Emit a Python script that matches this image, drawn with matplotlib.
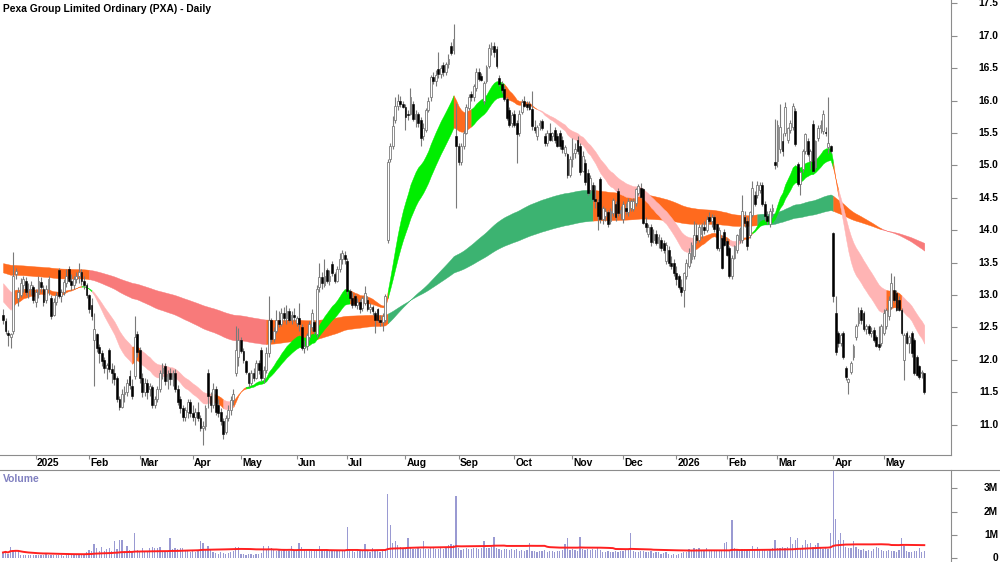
import matplotlib
matplotlib.use("Agg")
import matplotlib.pyplot as plt
import matplotlib.transforms as mtransforms
from matplotlib.lines import Line2D
import numpy as np
import pandas as pd

plt.rcParams['font.family'] = ['Liberation Sans', 'DejaVu Sans']

title = "Pexa Group Limited Ordinary (PXA) - Daily"

holidays = ["2024-12-25", "2024-12-26", "2025-01-01", "2025-01-27", "2025-04-18",
            "2025-04-21", "2025-04-25", "2025-06-09", "2025-12-25", "2025-12-26",
            "2026-01-01", "2026-01-26", "2026-04-03", "2026-04-06"]

open_ = [
    # Dec 2024
    12.70,12.60,12.42,12.36,12.45,13.33,12.95,13.00,13.15,13.22,13.08,13.10,13.12,
    # Jan 2025
    12.90,13.02,13.20,13.10,12.92,13.10,12.95,12.70,12.90,13.38,12.98,13.05,13.18,13.40,13.22,13.15,13.25,13.30,13.35,13.22,13.15,
    # Feb
    13.00,12.85,12.31,12.40,12.20,12.10,12.00,11.88,12.15,11.86,11.80,11.72,11.40,11.28,11.48,11.50,11.75,11.60,11.75,12.40,
    # Mar
    12.15,11.72,11.50,11.65,11.55,11.58,11.30,11.40,11.55,11.80,11.90,11.68,11.80,11.70,11.80,11.55,11.40,11.25,11.12,11.20,11.35,
    # Apr
    11.18,11.12,11.20,11.10,10.95,10.98,11.80,11.45,11.30,11.55,11.30,11.20,11.05,10.88,11.10,11.22,11.38,11.80,12.05,
    # May
    12.30,12.13,11.98,11.80,11.65,11.80,11.72,11.95,12.15,11.72,11.85,12.10,12.62,12.32,12.45,12.62,12.55,12.72,12.65,12.75,12.62,12.70,
    # Jun
    12.57,12.65,12.51,12.18,12.22,12.35,12.50,12.58,12.40,13.12,13.28,13.15,13.38,13.22,13.48,13.32,13.22,13.40,13.55,13.62,
    # Jul
    13.52,13.06,12.96,12.98,12.85,12.90,12.80,12.88,12.93,12.78,12.82,12.72,12.78,12.62,12.58,12.62,13.85,15.10,15.30,15.70,15.92,16.00,15.95,
    # Aug
    15.90,15.80,15.80,15.95,15.71,15.80,15.70,15.45,15.55,15.85,16.05,16.36,16.30,16.49,16.41,16.55,16.45,16.56,16.85,16.78,15.45,
    # Sep
    15.30,15.05,15.30,15.50,15.88,16.10,16.05,16.20,16.44,16.38,16.00,16.30,16.54,16.80,16.85,16.80,16.35,16.26,16.18,16.03,15.86,15.65,
    # Oct
    15.80,15.66,15.50,15.82,16.00,15.95,15.95,15.87,15.60,15.46,15.62,15.68,15.46,15.35,15.50,15.45,15.55,15.45,15.50,15.40,15.20,15.17,14.85,
    # Nov
    15.10,15.20,15.40,15.30,14.92,15.04,14.89,14.62,14.70,14.48,14.43,14.79,14.17,14.22,14.28,14.15,14.27,14.40,14.60,14.27,
    # Dec
    14.18,14.35,14.28,14.35,14.33,14.42,14.58,14.65,14.63,14.12,13.95,14.05,13.85,13.95,13.80,13.85,13.80,13.52,13.70,13.50,13.50,
    # Jan 2026
    13.34,13.29,13.13,13.08,13.30,13.45,13.55,13.60,13.92,13.85,13.95,14.05,14.00,14.20,14.15,14.20,14.09,13.73,13.88,13.98,
    # Feb
    13.83,13.73,13.30,13.58,13.70,13.85,13.85,14.20,14.14,13.92,14.24,14.55,14.55,14.62,14.70,14.40,14.22,14.10,14.30,15.05,
    # Mar
    15.07,15.25,15.38,15.50,15.40,15.55,15.59,15.84,15.02,14.71,14.95,15.22,15.38,15.07,15.64,14.97,15.42,15.58,15.53,15.52,15.28,15.30,
    # Apr
    13.96,12.72,12.41,12.26,12.41,11.87,11.66,11.82,12.05,12.36,12.57,12.77,12.72,12.47,12.52,12.41,12.46,12.35,12.25,12.26,
    # May
    12.42,12.52,12.67,12.82,13.08,13.03,12.93,12.77,12.00,12.41,12.26,12.41,12.31,12.05,11.90,11.80,11.79,
]

high_ = [
    12.78,12.64,12.46,12.42,13.66,13.42,13.12,13.26,13.30,13.28,13.18,13.22,13.16,
    13.10,13.30,13.28,13.15,13.15,13.30,13.00,12.95,13.05,13.42,13.10,13.25,13.40,13.45,13.32,13.30,13.35,13.50,13.40,13.30,13.18,
    13.02,12.95,12.72,12.42,12.25,12.15,12.05,11.95,12.18,11.95,11.92,11.75,11.45,11.55,11.60,11.70,11.85,11.70,12.67,12.45,
    12.20,11.80,11.72,11.70,11.65,11.62,11.45,11.60,11.85,11.95,11.95,11.85,11.88,11.85,11.86,11.62,11.45,11.30,11.28,11.40,11.40,
    11.30,11.25,11.35,11.15,11.05,11.30,11.86,11.50,11.65,11.60,11.40,11.25,11.10,11.15,11.30,11.45,11.55,12.52,12.49,
    12.35,12.18,12.00,11.82,11.85,11.88,12.00,12.00,12.20,11.90,12.20,12.98,12.65,12.50,12.77,12.75,12.80,12.82,12.85,12.80,12.75,12.80,
    12.68,12.88,12.55,12.30,12.42,12.60,12.78,12.62,13.15,13.50,13.35,13.55,13.42,13.38,13.52,13.36,13.45,13.65,13.70,13.68,
    13.58,13.10,13.05,13.02,12.95,12.94,12.98,13.14,12.98,12.88,12.85,12.75,12.80,12.70,12.72,13.02,15.10,15.35,15.76,16.05,16.10,16.08,16.00,
    15.95,15.85,16.20,16.00,15.85,15.82,15.75,15.65,15.88,16.05,16.40,16.45,16.48,16.75,16.55,16.60,16.60,16.72,16.90,17.19,15.97,
    15.35,15.35,15.55,15.95,16.10,16.15,16.25,16.50,16.50,16.42,16.30,16.55,16.88,16.90,16.90,16.85,16.40,16.30,16.22,16.06,15.90,15.82,
    15.85,15.70,15.85,16.02,16.08,16.00,16.00,16.15,15.70,15.62,15.70,15.72,15.50,15.55,15.65,15.52,15.60,15.50,15.55,15.45,15.32,15.20,15.15,
    15.43,15.35,15.45,15.35,15.22,15.10,14.95,14.85,14.75,14.70,14.48,14.82,14.38,14.35,14.32,14.35,14.50,14.45,14.65,14.38,
    14.45,14.42,14.50,14.48,14.50,14.66,14.72,14.73,14.66,14.20,14.10,14.10,14.02,14.00,13.95,13.90,13.85,13.82,13.75,13.60,13.55,
    13.45,13.32,13.25,13.36,13.55,13.72,13.82,14.14,14.12,14.10,14.12,14.15,14.22,14.28,14.25,14.24,14.12,14.05,13.92,14.02,
    13.88,13.76,13.62,13.78,13.95,14.05,14.55,14.30,14.20,14.30,14.76,14.60,14.76,14.75,14.75,14.45,14.30,14.35,14.40,15.72,
    15.70,15.95,15.50,15.98,15.60,15.70,15.97,15.88,15.05,14.92,15.25,15.50,15.42,15.25,15.70,15.40,15.62,15.70,15.85,15.60,16.05,15.32,
    13.97,12.98,12.45,12.42,12.45,11.90,11.72,11.98,12.25,12.55,12.82,12.82,12.76,12.55,12.56,12.50,12.50,12.38,12.52,12.55,
    12.78,12.80,12.98,13.34,13.29,13.08,12.98,12.80,12.42,12.45,12.38,12.45,12.34,12.08,11.92,11.85,11.80,
]

low_ = [
    12.55,12.40,12.22,12.18,12.40,13.25,12.83,12.97,13.05,13.00,12.95,13.00,12.88,
    12.82,12.95,13.05,12.83,12.88,13.00,12.63,12.68,12.85,12.95,12.90,13.00,13.12,13.20,13.08,13.10,13.18,13.18,13.15,13.10,12.95,
    12.72,12.62,11.60,12.12,11.95,11.90,11.80,11.70,11.82,11.65,11.62,11.35,11.22,11.25,11.35,11.45,11.55,11.40,11.70,12.05,
    11.65,11.42,11.45,11.40,11.45,11.25,11.25,11.35,11.50,11.70,11.62,11.55,11.62,11.60,11.50,11.30,11.18,11.05,11.05,11.10,11.12,
    11.05,11.00,11.05,10.90,10.69,10.92,11.25,11.20,11.25,11.15,11.12,11.00,10.78,10.85,11.05,11.15,11.30,11.75,11.90,
    12.10,11.95,11.78,11.58,11.62,11.68,11.70,11.78,11.68,11.65,11.80,12.05,12.28,12.28,12.42,12.50,12.52,12.60,12.55,12.58,12.55,12.60,
    12.52,12.45,12.15,12.10,12.15,12.30,12.45,12.40,12.35,13.05,13.10,13.12,13.18,13.15,13.30,13.18,13.20,13.35,13.48,13.48,
    13.02,12.92,12.80,12.82,12.78,12.72,12.76,12.85,12.75,12.72,12.70,12.41,12.58,12.52,12.45,12.58,13.80,15.05,15.25,15.65,15.85,15.90,15.88,
    15.55,15.70,15.78,15.68,15.60,15.60,15.30,15.40,15.52,15.82,16.00,16.25,16.22,16.35,16.35,16.38,16.40,16.50,16.70,16.72,14.35,
    15.00,15.00,15.25,15.48,15.85,16.00,16.00,16.15,16.30,16.30,15.95,16.28,16.50,16.70,16.68,16.50,16.22,16.12,16.00,15.70,15.60,15.60,
    15.60,15.04,15.45,15.80,15.90,15.85,15.85,15.55,15.50,15.40,15.55,15.55,15.30,15.30,15.38,15.38,15.35,15.28,15.25,15.20,15.15,14.80,14.82,
    14.98,15.12,15.18,14.85,14.90,14.70,14.55,14.58,14.45,14.35,14.00,14.12,14.10,14.15,14.05,14.10,14.22,14.15,14.22,14.18,
    14.12,14.25,14.22,14.30,14.30,14.38,14.55,14.50,14.10,13.97,13.90,13.75,13.80,13.78,13.72,13.68,13.65,13.48,13.45,13.40,13.30,
    13.15,13.10,12.98,12.82,13.25,13.42,13.50,13.55,13.80,13.82,13.88,13.95,13.98,14.12,14.05,13.98,13.70,13.68,13.40,13.75,
    13.60,13.26,13.25,13.55,13.65,13.80,13.80,14.05,13.70,13.88,14.20,14.38,14.50,14.58,14.38,14.15,14.10,14.05,14.22,14.95,
    14.98,15.20,15.15,15.45,15.35,15.50,15.55,15.30,14.68,14.55,14.90,15.18,15.15,14.95,14.90,14.95,15.38,15.50,15.48,15.45,15.20,15.20,
    12.90,12.08,12.20,12.22,12.02,11.69,11.48,11.78,12.00,12.30,12.52,12.55,12.45,12.40,12.38,12.35,12.28,12.20,12.15,12.22,
    12.38,12.48,12.62,12.78,12.90,12.75,12.75,12.38,11.69,12.25,12.10,12.05,11.76,11.75,11.70,11.72,11.48,
]

close_ = [
    12.62,12.45,12.38,12.40,13.30,13.37,13.05,13.18,13.25,13.05,13.10,13.15,12.92,
    13.05,13.22,13.12,12.90,13.10,13.25,12.68,12.90,13.00,12.98,13.05,13.20,13.30,13.22,13.15,13.25,13.30,13.35,13.22,13.15,13.00,
    12.78,12.68,12.47,12.18,12.10,11.98,11.88,11.92,11.86,11.80,11.70,11.40,11.28,11.48,11.50,11.65,11.62,11.45,12.35,12.12,
    11.72,11.50,11.65,11.50,11.60,11.30,11.40,11.55,11.80,11.88,11.68,11.78,11.70,11.80,11.55,11.35,11.25,11.12,11.22,11.35,11.18,
    11.12,11.20,11.10,10.95,10.98,11.25,11.45,11.30,11.55,11.20,11.18,11.05,10.85,11.10,11.22,11.38,11.48,12.16,12.31,
    12.13,12.00,11.82,11.65,11.80,11.72,11.95,11.85,11.72,11.85,12.10,12.62,12.32,12.45,12.62,12.55,12.72,12.65,12.75,12.62,12.70,12.66,
    12.65,12.55,12.18,12.22,12.38,12.55,12.72,12.45,13.10,13.28,13.18,13.30,13.22,13.30,13.34,13.22,13.40,13.55,13.65,13.55,
    13.06,12.96,12.85,12.85,12.90,12.78,12.95,13.03,12.78,12.82,12.75,12.62,12.62,12.58,12.68,12.98,15.05,15.30,15.61,15.92,16.00,15.95,15.90,
    15.75,15.78,16.05,15.71,15.80,15.65,15.43,15.58,15.85,16.00,16.36,16.30,16.40,16.41,16.50,16.45,16.56,16.65,16.74,16.95,15.30,
    15.05,15.30,15.50,15.90,16.05,16.05,16.22,16.45,16.33,16.32,16.28,16.52,16.82,16.85,16.75,16.54,16.26,16.16,16.03,15.74,15.62,15.78,
    15.62,15.48,15.80,15.98,15.92,15.90,15.87,15.61,15.55,15.59,15.65,15.58,15.35,15.50,15.40,15.50,15.40,15.30,15.30,15.25,15.28,14.86,15.10,
    15.20,15.25,15.22,14.90,15.15,14.74,14.58,14.80,14.48,14.45,14.22,14.17,14.35,14.30,14.10,14.30,14.47,14.20,14.27,14.32,
    14.40,14.30,14.45,14.45,14.45,14.63,14.68,14.52,14.12,14.05,14.05,13.82,13.95,13.80,13.90,13.72,13.70,13.78,13.50,13.45,13.34,
    13.25,13.13,13.05,13.34,13.50,13.65,13.78,13.92,13.85,14.05,14.08,14.00,14.18,14.15,14.20,14.02,13.73,14.00,13.42,13.78,
    13.62,13.30,13.58,13.75,13.92,14.02,14.30,14.12,13.75,14.28,14.66,14.40,14.70,14.70,14.40,14.22,14.15,14.30,14.35,15.00,
    15.62,15.60,15.22,15.90,15.58,15.65,15.92,15.33,14.71,14.90,15.22,15.48,15.18,15.22,14.92,15.38,15.58,15.62,15.79,15.50,15.35,15.22,
    12.98,12.12,12.26,12.38,12.05,11.74,11.70,11.95,12.21,12.52,12.72,12.62,12.47,12.52,12.41,12.45,12.31,12.21,12.20,12.52,
    12.72,12.77,12.93,13.19,12.93,12.77,12.77,12.41,12.38,12.26,12.35,12.10,11.79,11.77,11.74,11.82,11.50,
]

volume_m = [
    0.25,0.30,0.20,0.47,0.35,0.35,0.30,0.15,0.12,0.13,0.12,0.14,0.12,
    0.13,0.12,0.14,0.12,0.22,0.13,0.12,0.14,0.15,0.13,0.12,0.11,0.13,0.12,0.14,0.12,0.13,0.15,0.14,0.20,0.25,
    0.34,0.30,0.62,0.43,0.30,0.47,0.32,0.40,0.43,0.30,0.74,0.40,0.80,0.80,0.30,0.54,0.34,0.30,1.08,0.35,
    0.30,0.43,0.32,0.30,0.45,0.47,0.43,0.45,0.47,0.30,0.28,0.30,0.85,0.40,0.45,0.38,0.45,0.42,0.35,0.30,0.28,
    0.30,0.28,0.35,0.74,0.67,0.40,0.52,0.35,0.25,0.22,0.20,0.25,0.22,0.20,0.24,0.25,0.30,0.47,0.47,
    0.20,0.18,0.15,0.20,0.17,0.15,0.20,0.18,0.22,0.54,0.35,0.54,0.43,0.35,0.33,0.35,0.32,0.35,0.33,0.30,0.54,0.35,
    0.35,0.66,0.47,0.35,0.30,0.38,0.32,0.35,0.40,0.54,0.35,0.33,0.30,0.35,0.32,0.30,0.35,0.33,0.35,0.30,
    1.35,0.35,0.30,0.28,0.32,0.30,0.35,0.60,0.30,0.28,0.45,0.30,0.32,0.28,0.30,0.35,2.75,1.42,0.67,0.74,0.55,0.47,0.40,
    0.40,0.87,0.45,0.40,0.38,0.42,0.40,0.72,0.40,0.38,0.42,0.45,0.40,0.38,0.45,0.40,0.42,0.58,0.60,0.55,2.67,
    0.45,0.35,0.40,0.42,0.38,0.40,0.45,0.42,0.40,0.45,0.74,0.42,0.45,0.50,0.93,0.45,0.40,0.35,0.38,0.40,0.35,0.38,
    0.35,0.40,0.32,0.35,0.30,0.36,0.66,0.33,0.30,0.28,0.32,0.30,0.35,0.28,0.33,0.30,0.28,0.32,0.30,0.35,0.60,0.85,0.35,
    0.40,0.35,0.30,0.90,0.40,0.35,0.38,0.35,0.40,0.36,0.43,0.35,0.28,0.25,0.30,0.28,0.25,0.30,0.28,0.30,
    0.30,0.35,0.40,1.08,0.30,0.25,0.28,0.32,0.30,0.25,0.28,0.30,0.22,0.25,0.28,0.20,0.22,0.25,0.18,0.15,0.20,
    0.15,0.20,0.22,0.25,0.28,0.40,0.35,0.42,0.38,0.45,0.35,0.30,0.43,0.32,0.35,0.30,0.33,0.35,0.30,0.64,
    0.70,0.35,1.66,0.43,0.40,0.35,0.38,0.40,0.36,0.38,0.54,0.40,0.47,0.35,0.38,0.35,0.33,0.36,0.45,0.77,
    0.45,0.42,0.48,0.45,0.50,0.93,0.60,0.77,0.85,0.45,0.55,0.77,0.62,0.65,0.50,0.55,0.65,0.50,0.40,0.45,0.38,1.10,
    3.77,1.70,0.77,1.08,0.77,0.50,0.45,0.45,0.74,0.47,0.40,0.35,0.38,0.33,0.35,0.30,0.38,0.47,0.43,0.35,
    0.32,0.30,0.35,0.33,0.30,0.28,0.35,0.87,0.52,0.30,0.28,0.25,0.33,0.30,0.45,0.28,0.30,
]

# moving-average ribbons (periods) and their values at the left edge of the chart
short_periods = [20, 24, 28, 32]
short_seed = [12.93, 13.03, 13.13, 13.22]
long_periods = [150, 175, 200, 225, 250]
long_seed = [13.36, 13.41, 13.45, 13.48, 13.50]

# trend state of each ribbon (first bar index, state)
short_state_start = [0, 4, 31, 35, 51, 54, 82, 87, 91, 96, 137, 152, 178, 185, 198, 211, 273, 287, 292, 296, 328, 330, 349, 355]
short_state = ['dn', 'mx', 'up', 'dn', 'mx', 'dn', 'mx', 'dn', 'mx', 'up', 'mx', 'up', 'mx', 'up', 'mx', 'dn', 'mx', 'dn', 'mx', 'up', 'mx', 'dn', 'mx', 'dn']
long_state_start = [0, 34, 104, 152, 233, 298, 328, 347]
long_state = ['mx', 'dn', 'mx', 'up', 'mx', 'up', 'mx', 'dn']

vol_ma_window = 63

# ---------------------------------------------------------------------------
n = len(close_)
assert len(open_) == n and len(high_) == n and len(low_) == n and len(volume_m) == n, \
    (len(open_), len(high_), len(low_), len(close_), len(volume_m))

dates = pd.bdate_range("2024-12-11", "2026-05-25")
dates = dates[~dates.isin(pd.to_datetime(holidays))]
assert len(dates) == n, (len(dates), n)

o = np.array(open_); h = np.array(high_); l = np.array(low_); c = np.array(close_)
v = np.array(volume_m)
x = np.arange(n)

W, H = 1000, 562
def fx(px):
    return px / W
def fy(py):
    return 1 - py / H

fig = plt.figure(figsize=(W / 100, H / 100), dpi=100)
fig.patch.set_facecolor('white')
ax = fig.add_axes([0, fy(455), fx(951), 455 / H])
axv = fig.add_axes([0, 0, fx(951), (H - 469.5) / H])

xlim = (-3 / 2.531, (951 - 3) / 2.531)
ax.set_xlim(*xlim)
axv.set_xlim(*xlim)
ax.set_ylim(10.532, 17.554)
axv.set_ylim(-0.16, 3.81)

GRAY = '#8c8c8c'
FS = 7.4

# ---- ribbons
def ema(values, period, seed):
    a = 2.0 / (period + 1)
    out = np.empty(len(values))
    e = seed
    for k, val in enumerate(values):
        e += a * (val - e)
        out[k] = e
    return out

short_emas = [ema(c, p, s) for p, s in zip(short_periods, short_seed)]
long_emas = [ema(c, p, s) for p, s in zip(long_periods, long_seed)]

short_colors = {'up': '#00EE00', 'dn': '#FFB4B4', 'mx': '#FF6A1E'}
long_colors = {'up': '#3CB371', 'dn': '#F87A7A', 'mx': '#FF6A1E'}

def draw_band(fast, slow, starts, states, colors):
    ends = list(starts[1:]) + [n - 1]
    for s, e, st in zip(starts, ends, states):
        sl = slice(s, e + 1)
        ax.fill_between(x[sl], fast[sl], slow[sl], color=colors[st], lw=0.3,
                        edgecolor=colors[st], zorder=1)

draw_band(long_emas[0], long_emas[-1], long_state_start, long_state, long_colors)
draw_band(short_emas[0], short_emas[-1], short_state_start, short_state, short_colors)

# ---- candles
up = c >= o
ax.vlines(x, l, h, colors='#7a7a7a', lw=0.8, zorder=3)
body_bottom = np.minimum(o, c)
body_h = np.maximum(np.abs(c - o), 0.012)
ax.bar(x[up], body_h[up], bottom=body_bottom[up], width=0.72, color='white',
       edgecolor='#7a7a7a', linewidth=0.6, zorder=4)
ax.bar(x[~up], body_h[~up], bottom=body_bottom[~up], width=0.72, color='black',
       edgecolor='black', linewidth=0.4, zorder=4)

# ---- volume
axv.bar(x, v, width=0.5, color='#9A9AD2', linewidth=0, zorder=2)
vol_ma = pd.Series(v).rolling(vol_ma_window, min_periods=1).mean().values
axv.plot(x, vol_ma, color='#FF2020', lw=1.4, zorder=3)

# ---- axes styling
for a_ in (ax, axv):
    a_.set_facecolor('white')
    for sp in ('left', 'top'):
        a_.spines[sp].set_visible(False)
    a_.spines['right'].set_color(GRAY)
    a_.spines['right'].set_linewidth(0.8)
ax.spines['bottom'].set_color(GRAY)
ax.spines['bottom'].set_linewidth(0.8)
axv.spines['bottom'].set_visible(False)

fig.add_artist(Line2D([0, 1], [fy(469.5), fy(469.5)], transform=fig.transFigure,
                      color=GRAY, lw=0.8))

# price ticks
price_ticks = np.arange(11.0, 17.51, 0.5)
ax.yaxis.tick_right()
ax.set_yticks(price_ticks)
ax.tick_params(axis='y', direction='out', length=4, width=0.8, color=GRAY,
               labelright=False, labelleft=False)
tr_p = mtransforms.blended_transform_factory(fig.transFigure, ax.transData)
for t in price_ticks:
    ax.text(fx(998), t, f"{t:.1f}", transform=tr_p, ha='right', va='center',
            fontsize=FS, fontweight='bold', color='black', clip_on=False)

# volume ticks
vol_ticks = [0, 1, 2, 3]
vol_labels = ['0', '1M', '2M', '3M']
axv.yaxis.tick_right()
axv.set_yticks(vol_ticks)
axv.tick_params(axis='y', direction='out', length=4, width=0.8, color=GRAY,
                labelright=False, labelleft=False)
tr_v = mtransforms.blended_transform_factory(fig.transFigure, axv.transData)
for t, lab in zip(vol_ticks, vol_labels):
    axv.text(fx(998), t, lab, transform=tr_v, ha='right', va='center',
             fontsize=FS, fontweight='bold', color='black', clip_on=False)

# month ticks
month_key = dates.year * 12 + dates.month
month_idx = [0] + [k for k in range(1, n) if month_key[k] != month_key[k - 1]]
month_idx = [k for k in month_idx if dates[k].day <= 7 and k > 0]
ax.set_xticks(month_idx)
ax.tick_params(axis='x', direction='out', length=3, width=0.8, color=GRAY,
               labelbottom=False)
axv.set_xticks([])
tr_m = mtransforms.blended_transform_factory(ax.transData, fig.transFigure)
for k in month_idx:
    d = dates[k]
    lab = str(d.year) if d.month == 1 else d.strftime('%b')
    ax.text(k + 0.45, fy(463), lab, transform=tr_m, ha='left', va='center',
            fontsize=FS, fontweight='bold', color='black', clip_on=False)

# titles
fig.text(fx(3), fy(9), title, ha='left', va='center', fontsize=FS,
         fontweight='bold', color='black')
fig.text(fx(3), fy(478.5), 'Volume', ha='left', va='center', fontsize=FS,
         fontweight='bold', color='#8080C0')

fig.savefig('out.png', dpi=100, facecolor='white')
